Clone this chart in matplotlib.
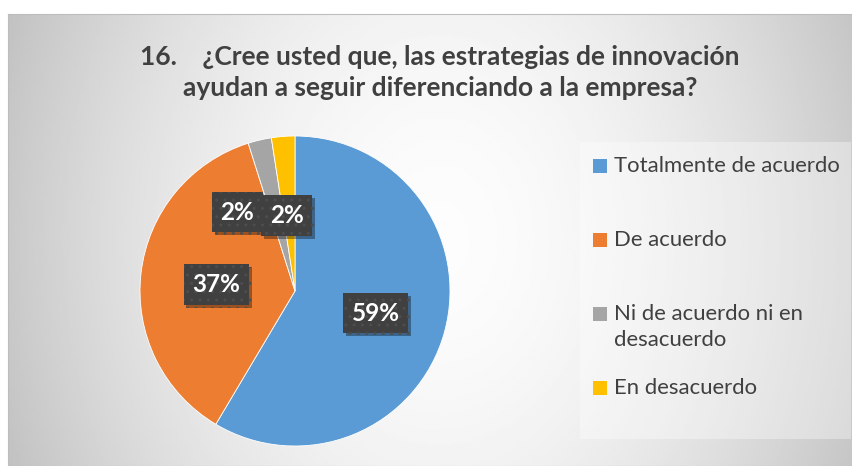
import numpy as np
import matplotlib.pyplot as plt
from matplotlib.patches import Rectangle
import matplotlib.patheffects as pe

# Datos de la encuesta (pregunta 16)
categorias = ['Totalmente de acuerdo', 'De acuerdo',
              'Ni de acuerdo ni en\ndesacuerdo', 'En desacuerdo']
respuestas = [24, 15, 1, 1]
colores = ['#5B9BD5', '#ED7D31', '#A5A5A5', '#FFC000']
titulo = ('16.    ¿Cree usted que, las estrategias de innovación\n'
          'ayudan a seguir diferenciando a la empresa?')

# posicion de las etiquetas dentro del pastel (radio relativo, giro en grados)
dist_etiqueta = [0.54, 0.51, 0.63, 0.49]
giro_etiqueta = [0, 2, 23, 2]

W, H = 853, 466
fig = plt.figure(figsize=(W / 100, H / 100), dpi=100)
fig.patch.set_facecolor('white')


def fx(x):
    return x / W


def fy(y):
    return 1 - y / H


# Fondo con degradado radial
bg = fig.add_axes([fx(8), 0, 1 - fx(8), 1 - 14 / H])
xs = np.linspace(8, W, 400)
ys = np.linspace(14, H, 240)
X, Y = np.meshgrid(xs, ys)
r = np.sqrt(((X - 440) / 430) ** 2 + ((Y - 240) / 560) ** 2)
gris = np.clip(0.99 - 0.2 * r ** 1.8, 0, 1)
bg.imshow(gris, cmap='gray', vmin=0, vmax=1, extent=[0, 1, 0, 1],
          aspect='auto', origin='upper', interpolation='bilinear')
bg.set_xticks([])
bg.set_yticks([])
for s in bg.spines.values():
    s.set_color('#bdbdbd')
    s.set_linewidth(0.8)

# Titulo
fig.text(fx(440), fy(72.5), titulo, ha='center', va='center', fontsize=19,
         fontweight='bold', color='#404040', family='Lato', linespacing=1.36)

# Pastel
cx, cy, R = 295, 291, 155
ax = fig.add_axes([fx(cx - R), fy(cy + R), 2 * R / W, 2 * R / H])
wedges, _ = ax.pie(respuestas, colors=colores, startangle=90, counterclock=False,
                   radius=1, wedgeprops=dict(edgecolor='white', linewidth=0.6))
ax.set_xlim(-1, 1)
ax.set_ylim(-1, 1)
ax.set_aspect('equal')

plt.rcParams['hatch.linewidth'] = 1.0
total = sum(respuestas)
for i, w in enumerate(wedges):
    ang = np.deg2rad((w.theta1 + w.theta2) / 2 + giro_etiqueta[i])
    d = dist_etiqueta[i]
    pct = f'{respuestas[i] / total * 100:.0f}%'
    t = ax.text(d * np.cos(ang), d * np.sin(ang), pct, ha='center', va='center',
                color='white', fontsize=17.5, fontweight='bold', family='Lato',
                bbox=dict(boxstyle='square,pad=0.36', facecolor='#404040',
                          edgecolor='#4d4d4d', linewidth=0, hatch='..'))
    t.get_bbox_patch().set_path_effects(
        [pe.withSimplePatchShadow(offset=(2, -2), shadow_rgbFace='black', alpha=0.35)])

# Leyenda manual
fig.patches.append(Rectangle((fx(580), fy(439)), fx(851 - 580), (439 - 142) / H,
                             transform=fig.transFigure, facecolor='white',
                             alpha=0.35, edgecolor='none', zorder=1))
for i, (cat, col) in enumerate(zip(categorias, colores)):
    y0 = 166 + 74 * i
    fig.patches.append(Rectangle((fx(593), fy(y0 + 7)), 14 / W, 14 / H,
                                 transform=fig.transFigure, facecolor=col,
                                 edgecolor='none', zorder=3))
    for j, linea in enumerate(cat.split('\n')):
        fig.text(fx(614), fy(y0 + 26 * j), linea, ha='left', va='center',
                 fontsize=15.9, color='#404040', family='Lato', zorder=4)

fig.savefig('out.png', dpi=100)
